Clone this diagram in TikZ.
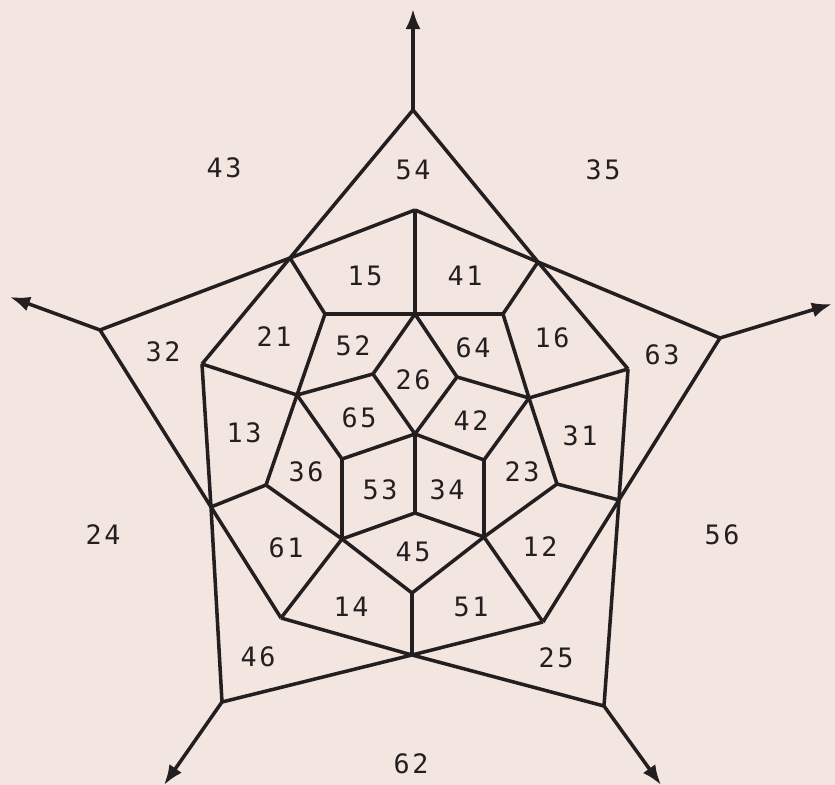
\documentclass[tikz,border=0pt]{standalone}
\usepackage{fontspec}
\newfontfamily\facefont[LetterSpace=10]{DejaVu Sans Mono}
\usetikzlibrary{arrows.meta}
\definecolor{myInk}{HTML}{231F20}
\definecolor{myPaper}{HTML}{F3E6E1}

\begin{document}
\begin{tikzpicture}[x=0.01cm, y=-0.01cm,
  edge/.style={draw=myInk, line width=1pt, line join=round},
  ray/.style={edge, -{Latex[length=5.7pt, width=4.3pt]}},
  face/.style={font=\facefont\fontsize{7.6}{9}\selectfont, text=myInk, inner sep=0pt}
]
\fill[myPaper] (0,0) rectangle (835,785);
\useasboundingbox (0,0) rectangle (835,785);

% outer tips and their rays
\coordinate (o1) at (413,110);
\coordinate (o2) at (100,330);
\coordinate (o3) at (720,338);
\coordinate (o4) at (222,702);
\coordinate (o5) at (604,706);
\coordinate (r1) at (413,9);
\coordinate (r2) at (10,297);
\coordinate (r3) at (832,304);
\coordinate (r4) at (164,785);
\coordinate (r5) at (661,785);

% crossings
\coordinate (ca) at (290,258);
\coordinate (cb) at (538,262);
\coordinate (cc) at (619,500);
\coordinate (cd) at (412,655);
\coordinate (ce) at (211,507);

% ring
\coordinate (pf) at (202,364);
\coordinate (pg) at (415,210);
\coordinate (pi) at (628,369);
\coordinate (pj) at (543,622);
\coordinate (ph) at (281,618);

% inner vertices
\coordinate (vk) at (325,314);
\coordinate (vl) at (415,314);
\coordinate (vm) at (503,314);
\coordinate (vn) at (529,398);
\coordinate (vp) at (457,377);
\coordinate (vq) at (373,374);
\coordinate (vr) at (297,395);
\coordinate (vs) at (415,434);
\coordinate (vt) at (266,485);
\coordinate (vu) at (342,459);
\coordinate (vv) at (342,539);
\coordinate (vw) at (415,513);
\coordinate (vx) at (484,460);
\coordinate (vy) at (484,537);
\coordinate (vz) at (557,484);
\coordinate (va) at (412,593);

\draw[ray] (o1) -- (r1);
\draw[ray] (o2) -- (r2);
\draw[ray] (o3) -- (r3);
\draw[ray] (o4) -- (r4);
\draw[ray] (o5) -- (r5);

\draw[edge] (pf) -- (ca) -- (o1) -- (cb) -- (pi);
\draw[edge] (pg) -- (ca) -- (o2) -- (ce) -- (ph);
\draw[edge] (pg) -- (cb) -- (o3) -- (cc) -- (pj);
\draw[edge] (pf) -- (ce) -- (o4) -- (cd) -- (pj);
\draw[edge] (pi) -- (cc) -- (o5) -- (cd) -- (ph);

\draw[edge] (ca) -- (vk) -- (vl) -- (vm) -- (cb);
\draw[edge] (pg) -- (vl);
\draw[edge] (vm) -- (vn) -- (pi);
\draw[edge] (vk) -- (vr) -- (pf);
\draw[edge] (vl) -- (vp) -- (vs) -- (vq) -- (vl);
\draw[edge] (vq) -- (vr) -- (vt) -- (ce);
\draw[edge] (vp) -- (vn) -- (vz) -- (cc);
\draw[edge] (vr) -- (vu) -- (vs) -- (vx) -- (vn);
\draw[edge] (vs) -- (vw);
\draw[edge] (vt) -- (vv) -- (vu);
\draw[edge] (vv) -- (vw) -- (vy) -- (vx);
\draw[edge] (vz) -- (vy) -- (pj);
\draw[edge] (vv) -- (va) -- (vy);
\draw[edge] (va) -- (cd);
\draw[edge] (vv) -- (ph);

\node[face] (f43) at (224,168) {43};
\node[face] (f54) at (413,170) {54};
\node[face] (f35) at (603,170) {35};
\node[face] (f15) at (365,276) {15};
\node[face] (f41) at (465,276) {41};
\node[face] (f32) at (163,352) {32};
\node[face] (f21) at (274,337) {21};
\node[face] (f52) at (353,346) {52};
\node[face] (f26) at (413,380) {26};
\node[face] (f64) at (473,348) {64};
\node[face] (f16) at (552,338) {16};
\node[face] (f63) at (662,355) {63};
\node[face] (f13) at (244,433) {13};
\node[face] (f65) at (359,418) {65};
\node[face] (f42) at (471,421) {42};
\node[face] (f31) at (580,436) {31};
\node[face] (f36) at (306,472) {36};
\node[face] (f53) at (380,490) {53};
\node[face] (f34) at (447,490) {34};
\node[face] (f23) at (522,472) {23};
\node[face] (f24) at (103,535) {24};
\node[face] (f56) at (722,535) {56};
\node[face] (f61) at (286,548) {61};
\node[face] (f45) at (413,552) {45};
\node[face] (f12) at (540,547) {12};
\node[face] (f14) at (351,607) {14};
\node[face] (f51) at (471,607) {51};
\node[face] (f46) at (258,657) {46};
\node[face] (f25) at (556,658) {25};
\node[face] (f62) at (411,764) {62};
\end{tikzpicture}
\end{document}
